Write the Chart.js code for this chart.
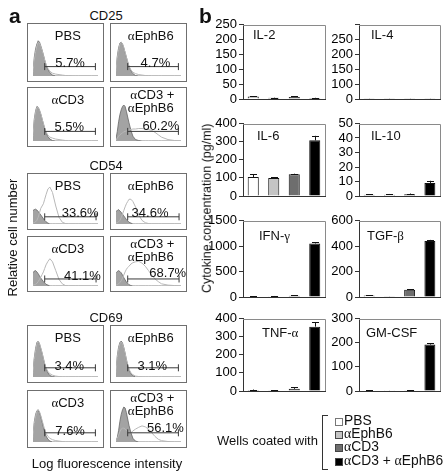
<!DOCTYPE html>
<html><head><meta charset="utf-8">
<script src="https://cdn.jsdelivr.net/npm/chart.js@4.4.1/dist/chart.umd.min.js"></script>
<style>
body{margin:0;background:#fff;}
#fig{position:relative;width:445px;height:472px;overflow:hidden;font-family:"Liberation Sans",Arial,sans-serif;color:#111;}
.t{position:absolute;white-space:nowrap;font-size:13px;line-height:13px;}
.box{position:absolute;border:1px solid #6f6f6f;box-sizing:border-box;}
.g{font-family:"Liberation Serif","DejaVu Serif",serif;line-height:1;}
canvas{position:absolute;}
</style></head><body><div id="fig"></div>
<script>
// ---------- DATA ----------
const treatments = ["PBS", "αEphB6", "αCD3", "αCD3 + αEphB6"];
const markers = ["CD25", "CD54", "CD69"];
// histogram x positions (log fluorescence, % of axis)
const histX = [0,2,4,6,8,10,12,14,16,18,20,23,26,30,35,40,45,50,55,60,65,70,80,90,100];
// relative cell number (% of panel height): isotype (filled) and stained (open)
const cd25Control = [
  [10,40,58,68,75,72,64,55,45,34,24,14,7,2,0,0,0,0,0,0,0,0,0,0,0],
  [12,42,60,70,72,68,60,50,40,30,20,11,5,1,0,0,0,0,0,0,0,0,0,0,0],
  [12,46,63,72,70,64,56,46,36,26,17,9,4,1,0,0,0,0,0,0,0,0,0,0,0],
  [5,20,40,55,65,72,75,72,62,50,38,22,10,3,1,0,0,0,0,0,0,0,0,0,0]];
const cd25Stained = [
  [8,34,52,64,72,70,62,54,44,34,25,16,10,6,4,3,2,1,1,0,0,0,0,0,0],
  [10,38,56,68,72,68,60,50,40,30,21,13,8,5,3,2,1,1,0,0,0,0,0,0,0],
  [10,42,60,70,70,64,56,46,36,27,19,12,8,6,4,3,2,1,0,0,0,0,0,0,0],
  [2,6,10,13,15,17,19,20,21,22,23,24,25,25,26,26,25,24,22,18,13,8,3,1,0]];
const cd54Control = [
  [30,32,33,31,28,24,20,16,12,8,5,2,0,0,0,0,0,0,0,0,0,0,0,0,0],
  [28,30,32,29,26,22,18,14,10,7,4,2,0,0,0,0,0,0,0,0,0,0,0,0,0],
  [30,34,35,32,28,23,18,14,10,7,4,2,0,0,0,0,0,0,0,0,0,0,0,0,0],
  [30,33,35,33,30,25,19,14,9,6,3,1,0,0,0,0,0,0,0,0,0,0,0,0,0]];
const cd54Stained = [
  [2,3,5,8,15,25,35,40,45,55,65,78,82,70,40,15,4,1,0,0,0,0,0,0,0],
  [2,3,5,8,14,22,30,38,45,50,55,55,50,38,20,8,3,1,0,0,0,0,0,0,0],
  [2,3,4,6,10,15,20,26,32,40,48,56,62,55,35,15,5,1,0,0,0,0,0,0,0],
  [2,3,5,8,12,18,25,32,38,42,45,50,53,55,56,52,45,35,25,16,10,5,2,1,0]];
const cd69Control = [
  [10,42,62,75,78,72,62,52,40,28,18,9,3,1,0,0,0,0,0,0,0,0,0,0,0],
  [12,46,65,75,78,74,64,52,38,25,15,7,3,0,0,0,0,0,0,0,0,0,0,0,0],
  [12,44,60,68,70,64,55,44,32,22,13,6,2,0,0,0,0,0,0,0,0,0,0,0,0],
  [2,10,25,45,60,70,76,74,64,50,36,20,8,2,0,0,0,0,0,0,0,0,0,0,0]];
const cd69Stained = [
  [8,38,58,72,78,72,63,52,40,29,20,12,7,4,2,1,0,0,0,0,0,0,0,0,0],
  [10,42,62,72,76,72,63,51,38,26,17,9,5,2,1,0,0,0,0,0,0,0,0,0,0],
  [10,40,56,66,70,66,57,47,37,27,19,12,8,5,3,2,1,0,0,0,0,0,0,0,0],
  [2,8,15,22,28,30,30,28,25,22,20,20,24,28,32,35,33,28,20,12,6,3,1,0,0]];
const cd25Percent = ["5.7%", "4.7%", "5.5%", "60.2%"];
const cd54Percent = ["33.6%", "34.6%", "41.1%", "68.7%"];
const cd69Percent = ["3.4%", "3.1%", "7.6%", "56.1%"];
// gate: [start, end, level]
const cd25Gate = [18, 96, 20];
const cd54Gate = [18, 97, 16];
const cd69Gate = [18, 96, 20];

const cytokines = ["IL-2", "IL-4", "IL-6", "IL-10", "IFN-γ", "TGF-β", "TNF-α", "GM-CSF"];
const il2 = [8, 4, 7, 3],        il2Err = [2, 1, 3, 1];
const il4 = [1, 1, 1, 1],        il4Err = [0.5, 0.5, 0.5, 0.5];
const il6 = [105, 100, 120, 307], il6Err = [15, 3, 3, 25];
const il10 = [0.8, 0.9, 1.2, 9],  il10Err = [0.3, 0.5, 0.5, 1.5];
const ifng = [10, 15, 25, 1050],  ifngErr = [5, 5, 8, 20];
const tgfb = [12, 2, 57, 440],    tgfbErr = [3, 1, 5, 8];
const tnfa = [5, 2, 12, 355],     tnfaErr = [3, 1, 8, 25];
const gmcsf = [2, 1, 3, 192],     gmcsfErr = [1, 0.5, 1, 5];
const axisMax = [250, 250, 400, 50, 1500, 600, 400, 300];
const axisStep = [50, 50, 100, 10, 500, 200, 100, 100];
const il4TickLabels = ["0", "100", "150", "200", "250", ""];

// ---------- DRAWING ----------
const fig = document.getElementById('fig');
const fmt = s => s.replace(/([αβγ])/g, '<span class="g">$1</span>');
function txt(s, x, y, o = {}) {
  const size = o.size || 13;
  const d = document.createElement('div');
  d.className = 't';
  d.innerHTML = fmt(s);
  d.style.fontSize = size + 'px';
  d.style.lineHeight = size + 'px';
  d.style.height = size + 'px';
  if (o.bold) d.style.fontWeight = 'bold';
  d.style.left = x + 'px';
  d.style.top = (y - size / 2) + 'px';
  let tr = o.align === 'left' ? '' : (o.align === 'right' ? 'translateX(-100%)' : 'translateX(-50%)');
  if (o.rot) { tr = 'translate(-50%,0) rotate(-90deg)'; d.style.transformOrigin = '50% 50%'; }
  d.style.transform = tr;
  fig.appendChild(d);
  return d;
}
function div(l, t, w, h, css) {
  const d = document.createElement('div');
  d.style.position = 'absolute';
  d.style.left = l + 'px'; d.style.top = t + 'px';
  d.style.width = w + 'px'; d.style.height = h + 'px';
  Object.assign(d.style, css || {});
  fig.appendChild(d);
  return d;
}
function canvasAt(l, t, w, h) {
  const c = document.createElement('canvas');
  c.width = w; c.height = h;
  c.style.left = l + 'px'; c.style.top = t + 'px';
  c.style.width = w + 'px'; c.style.height = h + 'px';
  fig.appendChild(c);
  return c;
}

function hist(left, top, h, ctrl, stained, gate) {
  const w = 77;
  const b = div(left, top, w, h);
  b.className = 'box';
  const c = canvasAt(left + 1, top + 1, w - 2, h - 2);
  new Chart(c, {
    type: 'line',
    data: { datasets: [
      { data: [{x: gate[0], y: gate[2]}, {x: gate[1], y: gate[2]}], borderColor: '#3a3a3a', borderWidth: 1,
        pointStyle: 'line', pointRotation: 90, pointRadius: 3.5, pointBorderColor: '#3a3a3a', pointBorderWidth: 1, fill: false },
      { data: histX.map((x, i) => ({x, y: stained[i]})), fill: false, borderColor: '#b8b8b8', borderWidth: 1, pointRadius: 0 },
      { data: histX.map((x, i) => ({x, y: ctrl[i]})), fill: 'origin', backgroundColor: '#a3a3a3', borderColor: '#666', borderWidth: 0.8, pointRadius: 0 }
    ]},
    options: {
      responsive: false, animation: false, events: [], devicePixelRatio: 1,
      layout: { padding: 0 },
      plugins: { legend: { display: false }, tooltip: { enabled: false } },
      scales: { x: { type: 'linear', min: 0, max: 100, display: false }, y: { min: 0, max: 100, display: false } }
    }
  });
}

const colsX = [27, 110];
const groups = [
  { name: markers[0], titleY: 15, tops: [23, 87], hs: [59, 60], ctrl: cd25Control, st: cd25Stained, pct: cd25Percent, gate: cd25Gate,
    px: [0.56, 0.59, 0.55, 0.66], py: [39, 39, 39, 38] },
  { name: markers[1], titleY: 165, tops: [173, 236], hs: [57, 56], ctrl: cd54Control, st: cd54Stained, pct: cd54Percent, gate: cd54Gate,
    px: [0.69, 0.52, 0.72, 0.75], py: [39, 39, 39, 36] },
  { name: markers[2], titleY: 317, tops: [325, 390], hs: [58, 58], ctrl: cd69Control, st: cd69Stained, pct: cd69Percent, gate: cd69Gate,
    px: [0.55, 0.55, 0.56, 0.72], py: [40, 40, 40, 37] }
];
groups.forEach(g => {
  txt(g.name, 106, g.titleY);
  for (let k = 0; k < 4; k++) {
    const col = k % 2, row = Math.floor(k / 2);
    const L = colsX[col], T = g.tops[row], H = g.hs[row];
    hist(L, T, H, g.ctrl[k], g.st[k], g.gate);
    if (k < 3) {
      txt(treatments[k], L + 77 * 0.53, T + 12);
    } else {
      const parts = treatments[3].split(' + ');
      txt(parts[0] + ' +', L + 77 * 0.55, T + 7.5);
      txt(parts[1], L + 77 * 0.53, T + 20);
    }
    txt(g.pct[k], L + 77 * g.px[k], T + g.py[k]);
  }
});
txt('a', 9, 15, { size: 21, bold: true, align: 'left' });
txt('Relative cell number', 12, 237, { rot: true });
txt('Log fluorescence intensity', 107, 463);

// ---------- bar charts ----------
const barColors = ['#ffffff', '#c4c4c4', '#6e6e6e', '#000000'];
const framePlugin = {
  id: 'frameErr',
  afterDatasetsDraw(chart) {
    const ctx = chart.ctx, y = chart.scales.y, meta = chart.getDatasetMeta(0);
    const ds = chart.data.datasets[0];
    ctx.save();
    ctx.strokeStyle = '#111'; ctx.lineWidth = 1;
    meta.data.forEach((bar, i) => {
      const v = ds.data[i], e = ds.errs[i];
      const x = Math.round(bar.x) + 0.5;
      const y0 = y.getPixelForValue(v), y1 = y.getPixelForValue(v + e);
      ctx.beginPath();
      ctx.moveTo(x, y0); ctx.lineTo(x, y1);
      ctx.moveTo(x - 3.5, Math.round(y1) + 0.5); ctx.lineTo(x + 3.5, Math.round(y1) + 0.5);
      ctx.stroke();
    });
    const a = chart.chartArea;
    ctx.strokeStyle = '#8a8a8a';
    ctx.beginPath();
    ctx.moveTo(a.left, Math.round(a.top) + 0.5); ctx.lineTo(Math.round(a.right) + 0.5, Math.round(a.top) + 0.5);
    ctx.lineTo(Math.round(a.right) + 0.5, a.bottom);
    ctx.stroke();
    ctx.strokeStyle = '#333';
    ctx.beginPath();
    ctx.moveTo(a.left, Math.round(a.bottom) + 0.5); ctx.lineTo(Math.round(a.right) + 1, Math.round(a.bottom) + 0.5);
    ctx.stroke();
    ctx.restore();
  }
};
function bars(areaL, areaT, areaW, areaH, vals, errs, max, step, labels) {
  const padL = 42, padT = 8, padB = 9, padR = 3;
  const c = canvasAt(areaL - padL, areaT - padT, areaW + padL + padR, areaH + padT + padB);
  new Chart(c, {
    type: 'bar',
    data: { labels: treatments, datasets: [{ data: vals, errs: errs, backgroundColor: barColors, borderColor: '#111',
      borderWidth: 1, barPercentage: 0.54, categoryPercentage: 1 }] },
    options: {
      responsive: false, animation: false, events: [], devicePixelRatio: 1,
      layout: { padding: { top: padT, bottom: padB, right: padR, left: 0 } },
      plugins: { legend: { display: false }, tooltip: { enabled: false } },
      scales: {
        x: { display: false },
        y: { min: 0, max: max, afterFit: s => { s.width = padL; },
             ticks: { stepSize: step, autoSkip: false, color: '#000', padding: 2,
                      font: { family: 'Liberation Sans', size: 13, lineHeight: 1 },
                      callback: (v, i) => labels ? labels[i] : String(v) },
             grid: { drawOnChartArea: false, drawTicks: true, tickLength: 4, color: '#333' },
             border: { display: true, color: '#333' } }
      }
    },
    plugins: [framePlugin]
  });
}
const colL = [243, 359], colW = [82, 81];
const rowT = [24, 123, 220, 318], rowH = [75, 73, 77, 73];
const barVals = [il2, il4, il6, il10, ifng, tgfb, tnfa, gmcsf];
const barErrs = [il2Err, il4Err, il6Err, il10Err, ifngErr, tgfbErr, tnfaErr, gmcsfErr];
const titleOff = [[10, 10], [12, 10], [14, 12], [12, 12], [16, 15], [8, 15], [19, 14], [7, 14]];
for (let i = 0; i < 8; i++) {
  const col = i % 2, row = Math.floor(i / 2);
  bars(colL[col], rowT[row], colW[col], rowH[row], barVals[i], barErrs[i], axisMax[i], axisStep[i], i === 1 ? il4TickLabels : null);
  txt(cytokines[i], colL[col] + titleOff[i][0], rowT[row] + titleOff[i][1], { align: 'left' });
}
txt('b', 199, 15, { size: 21, bold: true, align: 'left' });
txt('Cytokine concentration (pg/ml)', 207, 208, { rot: true, size: 12.5 });

// legend
txt('Wells coated with', 217, 440, { align: 'left' });
div(322, 415, 5, 53, { borderLeft: '1px solid #333', borderTop: '1px solid #333', borderBottom: '1px solid #333' });
const legY = [421, 434, 447, 461];
treatments.forEach((t, i) => {
  div(335, legY[i] - 3, 6, 6, { background: barColors[i], border: '1px solid ' + (i === 0 ? '#777' : '#444') });
  txt(t, 344, legY[i], { align: 'left', size: 13.8 });
});
</script></body></html>
